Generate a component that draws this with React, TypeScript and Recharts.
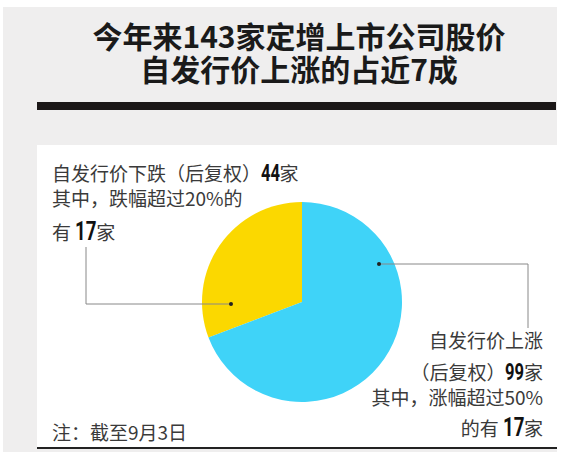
import React from 'react';
import { PieChart, Pie, Cell } from 'recharts';

const titleLines = ['今年来143家定增上市公司股价', '自发行价上涨的占近7成'];
const categories = ['自发行价下跌（后复权）', '自发行价上涨（后复权）'];
const counts = [44, 99];
const colors = ['#fbd800', '#3fd3f8'];
const note = '注：截至9月3日';

const data = categories.map((name, i) => ({ name, value: counts[i] }));

const CJK = '"Noto Sans CJK SC", "Noto Sans", sans-serif';
const NUM = 'Roboto, "DejaVu Sans", sans-serif';

// bold condensed numerals, squeezed horizontally
const Num: React.FC<{ v: number | string; size?: number }> = ({ v, size = 23 }) => {
  const w = String(v).length * size * 0.56;
  return (
    <span
      style={{
        display: 'inline-block',
        width: w * 0.72,
        fontFamily: NUM,
        fontWeight: 700,
        fontSize: size,
        color: '#111',
        verticalAlign: 'baseline',
      }}
    >
      <span style={{ display: 'inline-block', transform: 'scaleX(0.72)', transformOrigin: 'left' }}>{v}</span>
    </span>
  );
};

// leader line + dot anchored to the pie centre
const renderLeader = (props: any) => {
  const { cx, cy, index } = props;
  if (index === 0) {
    const dx = cx - 71;
    const dy = cy + 2;
    return (
      <g>
        <path d={`M${dx},${dy} H${cx - 216} V${cy - 55}`} stroke="#888" strokeWidth={1} fill="none" />
        <circle cx={dx} cy={dy} r={2} fill="#222" />
      </g>
    );
  }
  const dx = cx + 77;
  const dy = cy - 38;
  return (
    <g>
      <path d={`M${dx},${dy} H${cx + 226} V${cy + 26}`} stroke="#888" strokeWidth={1} fill="none" />
      <circle cx={dx} cy={dy} r={2} fill="#222" />
    </g>
  );
};

const abs = (style: React.CSSProperties): React.CSSProperties => ({ position: 'absolute', ...style });

const body: React.CSSProperties = { fontSize: 19, color: '#3a3a3a', whiteSpace: 'nowrap' };

export default function App() {
  return (
    <div style={abs({ left: 0, top: 0, width: 572, height: 459, background: '#fff', overflow: 'hidden', fontFamily: CJK })}>
      <div style={abs({ left: 3, top: 7, width: 554, height: 445, background: '#efeeee' })} />
      <div style={abs({ left: 37, top: 102, width: 519, height: 8, background: '#1b1717' })} />
      <div style={abs({ left: 37, top: 145, width: 520, height: 303, background: '#fff' })} />
      <div style={abs({ left: 37, top: 447, width: 520, height: 2, background: '#222' })} />

      <div
        style={abs({
          left: 0,
          top: 19,
          width: 598,
          textAlign: 'center',
          fontSize: 30,
          lineHeight: '33px',
          fontWeight: 700,
          color: '#1a1a1a',
        })}
      >
        {titleLines.map((t) => (
          <div key={t} style={{ height: 33 }}>{t}</div>
        ))}
      </div>

      <div style={abs({ left: 0, top: 0 })}>
        <PieChart width={572} height={459}>
          <Pie
            data={data}
            dataKey="value"
            nameKey="name"
            cx={297}
            cy={297}
            outerRadius={100}
            startAngle={90}
            endAngle={450}
            stroke="none"
            label={renderLeader}
            labelLine={false}
            isAnimationActive={false}
          >
            {data.map((d, i) => (
              <Cell key={d.name} fill={colors[i]} />
            ))}
          </Pie>
        </PieChart>
      </div>

      <div style={abs({ ...body, left: 52, top: 160, lineHeight: '26px' })}>
        {categories[0]}
        <Num v={counts[0]} />家
      </div>
      <div style={abs({ ...body, left: 52, top: 185, lineHeight: '26px' })}>其中，跌幅超过20%的</div>
      <div style={abs({ ...body, left: 52, top: 216, lineHeight: '30px' })}>
        有 <Num v={17} size={26} />家
      </div>

      <div style={abs({ ...body, right: 29, top: 326, lineHeight: '28px', textAlign: 'right' })}>自发行价上涨</div>
      <div style={abs({ ...body, right: 29, top: 358, lineHeight: '28px', textAlign: 'right' })}>
        （后复权）<Num v={counts[1]} />家
      </div>
      <div style={abs({ ...body, right: 29, top: 384, lineHeight: '26px', textAlign: 'right' })}>其中，涨幅超过50%</div>
      <div style={abs({ ...body, right: 29, top: 412, lineHeight: '30px', textAlign: 'right' })}>
        的有 <Num v={17} size={26} />家
      </div>

      <div style={abs({ ...body, left: 52, top: 419, lineHeight: '26px' })}>{note}</div>
    </div>
  );
}
